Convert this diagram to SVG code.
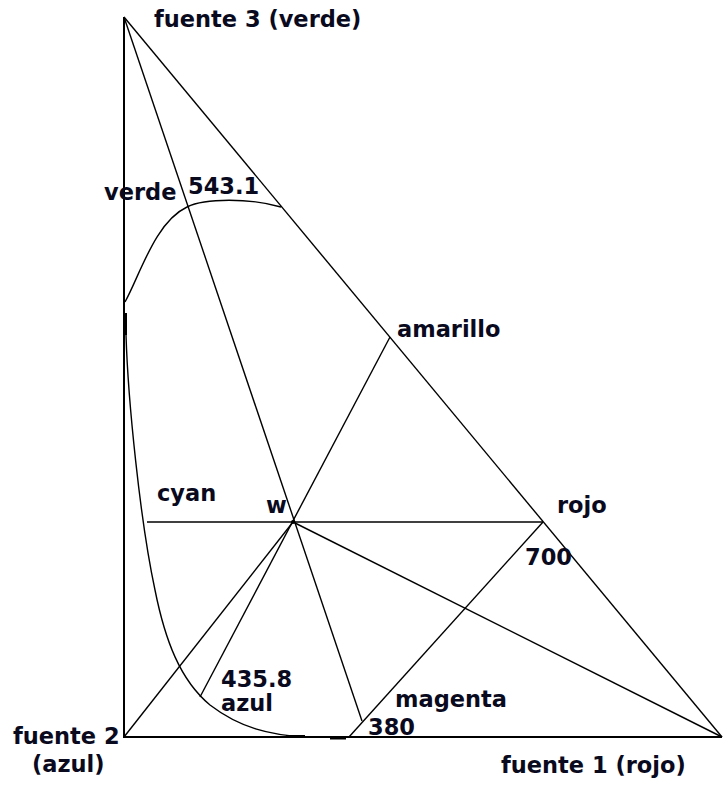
<svg xmlns="http://www.w3.org/2000/svg" width="723" height="786" viewBox="0 0 723 786">
<style>
.ln{stroke:#000;stroke-width:1.4;fill:none}
.ax{stroke:#000;stroke-width:2;fill:none}
.tk{stroke:#000;stroke-width:3;fill:none}
text{font-family:"DejaVu Sans","Verdana",sans-serif;font-weight:bold;font-size:22.5px;fill:#0a0a1e}
</style>
<rect width="723" height="786" fill="#fff"/>
<g id="triangle">
<line class="ax" x1="124" y1="17" x2="124" y2="737"/>
<line class="ax" x1="123" y1="737" x2="722" y2="737"/>
<line class="ln" x1="124" y1="17" x2="722" y2="737"/>
</g>
<g id="connectors">
<line class="ln" x1="124" y1="17" x2="362" y2="721"/>
<line class="ln" x1="390" y1="337" x2="200" y2="697"/>
<line class="ln" x1="147" y1="522" x2="543" y2="522"/>
<line class="ln" x1="543" y1="522" x2="349" y2="737"/>
<line class="ln" x1="293" y1="522" x2="722" y2="737"/>
<line class="ln" x1="293" y1="522" x2="124" y2="737"/>
</g>
<g id="locus">
<path class="ln" d="M125,302 C140,275 155,222 187,207 C205,198 250,198 281,207"/>
<path class="ln" d="M125,313 L126,335 C128,400 140,520 155,590 C165,640 180,680 210,705 C240,728 270,735 305,737"/>
<line class="tk" x1="125.5" y1="313" x2="125.5" y2="335"/>
<line class="tk" x1="286" y1="736.5" x2="305" y2="736.5"/>
<line class="tk" x1="330" y1="738" x2="346" y2="738"/>
<circle cx="293" cy="522" r="2"/>
</g>
<g id="labels">
<text x="154" y="27">fuente 3 (verde)</text>
<text x="104" y="200">verde</text>
<text x="188" y="194">543.1</text>
<text x="397" y="337">amarillo</text>
<text x="157" y="501">cyan</text>
<text x="266" y="513">w</text>
<text x="557" y="513">rojo</text>
<text x="525" y="565">700</text>
<text x="221" y="687">435.8</text>
<text x="221" y="711">azul</text>
<text x="395" y="707">magenta</text>
<text x="368" y="735">380</text>
<text x="13" y="744">fuente 2</text>
<text x="32" y="772">(azul)</text>
<text x="501" y="773">fuente 1 (rojo)</text>
</g>
</svg>
